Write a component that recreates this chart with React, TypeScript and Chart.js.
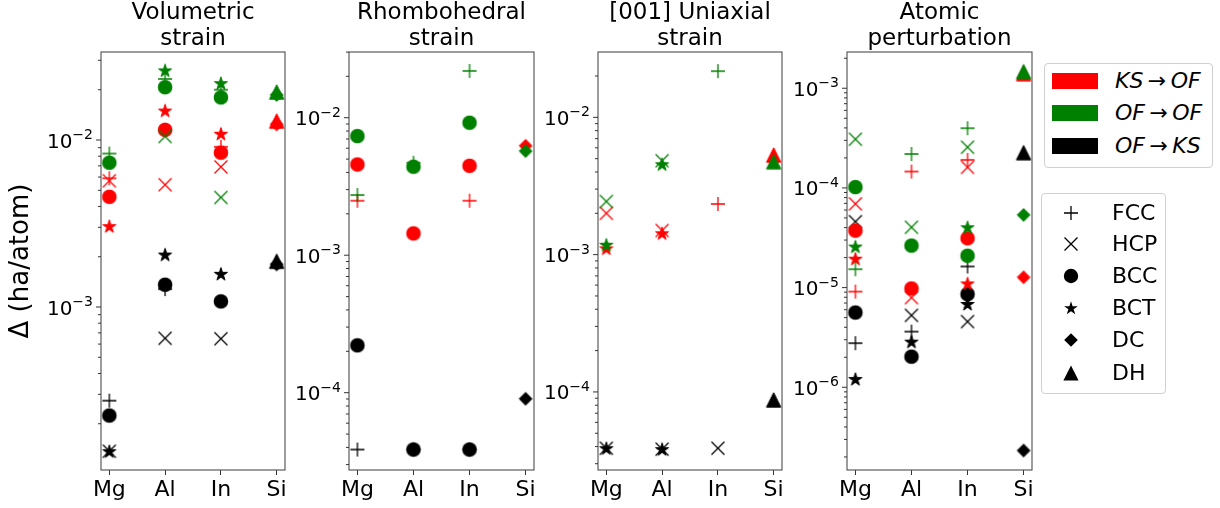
import React, { useEffect, useRef } from 'react';
import { Chart, registerables } from 'chart.js';

Chart.register(...registerables);

// ---------------- data ----------------
const ELEMENTS = ['Mg', 'Al', 'In', 'Si'];
const STRUCTURES = ['FCC', 'HCP', 'BCC', 'BCT', 'DC', 'DH'];
const TRANSFER_COLORS = ['#ff0000', '#008000', '#000000'];
const PANEL_TITLES = [
  ['Volumetric', 'strain'],
  ['Rhombohedral', 'strain'],
  ['[001] Uniaxial', 'strain'],
  ['Atomic', 'perturbation'],
];
const Y_MIN = [1.057e-4, 2.74e-5, 2.7e-5, 1.48e-7];
const Y_MAX = [0.03365, 0.03006, 0.02992, 2.31e-3];

type Rec = { [k: string]: (number | null)[] };
// each array: values for [Mg, Al, In, Si]

// Volumetric strain
const VOL_KS_OF: Rec = {
  FCC: [0.0059, 0.0115, 0.0091, null],
  HCP: [0.0057, 0.0054, 0.0069, null],
  BCC: [0.00457, 0.0115, 0.0084, null],
  BCT: [0.00305, 0.015, 0.0109, null],
  DC: [null, null, null, 0.0124],
  DH: [null, null, null, 0.013],
};
const VOL_OF_OF: Rec = {
  FCC: [0.0083, 0.0232, 0.02, null],
  HCP: [null, 0.0105, 0.00453, null],
  BCC: [0.00731, 0.0207, 0.018, null],
  BCT: [null, 0.0261, 0.0219, null],
  DC: [null, null, null, 0.0186],
  DH: [null, null, null, 0.0194],
};
const VOL_OF_KS: Rec = {
  FCC: [2.75e-4, 1.28e-3, null, null],
  HCP: [1.37e-4, 6.5e-4, 6.46e-4, null],
  BCC: [2.24e-4, 1.36e-3, 1.08e-3, null],
  BCT: [1.37e-4, 2.06e-3, 1.58e-3, null],
  DC: [null, null, null, 1.8e-3],
  DH: [null, null, null, 1.88e-3],
};

// Rhombohedral strain
const RHO_KS_OF: Rec = {
  FCC: [0.00249, null, 0.00249, null],
  BCC: [0.00457, 0.00144, 0.00447, null],
  DC: [null, null, null, 0.00625],
};
const RHO_OF_OF: Rec = {
  FCC: [0.00274, 0.0047, 0.0219, null],
  BCC: [0.00735, 0.0044, 0.0092, null],
  DC: [null, null, null, 0.00572],
};
const RHO_OF_KS: Rec = {
  FCC: [3.86e-5, 3.86e-5, 3.86e-5, null],
  BCC: [2.21e-4, 3.86e-5, 3.86e-5, null],
  DC: [null, null, null, 9.03e-5],
};

// [001] uniaxial strain
const UNI_KS_OF: Rec = {
  FCC: [null, null, 0.00234, null],
  HCP: [0.002, 0.0015, null, null],
  BCT: [0.00111, 0.00143, null, null],
  DH: [null, null, null, 0.00532],
};
const UNI_OF_OF: Rec = {
  FCC: [null, null, 0.0217, null],
  HCP: [0.00244, 0.00483, null, null],
  BCT: [0.00118, 0.00455, null, null],
  DH: [null, null, null, 0.00475],
};
const UNI_OF_KS: Rec = {
  HCP: [3.89e-5, 3.83e-5, 3.89e-5, null],
  BCT: [3.89e-5, 3.83e-5, null, null],
  DH: [null, null, null, 8.75e-5],
};

// Atomic perturbation
const ATOM_KS_OF: Rec = {
  FCC: [9.12e-6, 1.46e-4, 1.91e-4, null],
  HCP: [6.92e-5, 7.94e-6, 1.61e-4, null],
  BCC: [3.73e-5, 9.8e-6, 3.13e-5, null],
  BCT: [1.95e-5, null, 1.1e-5, null],
  DC: [null, null, null, 1.27e-5],
  DH: [null, null, null, 1.4e-3],
};
const ATOM_OF_OF: Rec = {
  FCC: [1.53e-5, 2.19e-4, 3.97e-4, null],
  HCP: [3.08e-4, 4.03e-5, 2.56e-4, null],
  BCC: [1.02e-4, 2.64e-5, 2.09e-5, null],
  BCT: [2.58e-5, null, 4.03e-5, null],
  DC: [null, null, null, 5.36e-5],
  DH: [null, null, null, 1.47e-3],
};
const ATOM_OF_KS: Rec = {
  FCC: [2.77e-6, 3.62e-6, 1.63e-5, null],
  HCP: [4.59e-5, 5.27e-6, 4.56e-6, null],
  BCC: [5.62e-6, 2.03e-6, 8.6e-6, null],
  BCT: [1.21e-6, 2.87e-6, 6.85e-6, null],
  DC: [null, null, null, 2.32e-7],
  DH: [null, null, null, 2.26e-4],
};

const PANEL_SERIES: Rec[][] = [
  [VOL_KS_OF, VOL_OF_OF, VOL_OF_KS],
  [RHO_KS_OF, RHO_OF_OF, RHO_OF_KS],
  [UNI_KS_OF, UNI_OF_OF, UNI_OF_KS],
  [ATOM_KS_OF, ATOM_OF_OF, ATOM_OF_KS],
];

// ---------------- layout ----------------
const FONT = '"DejaVu Sans", "Liberation Sans", sans-serif';
const CANVAS_H = 508;
const PLOT_TOP = 52;
const X_AXIS_H = 38;
const RIGHT_PAD = 10;
// [canvas left, y-axis width, plot width]
const PANEL_BOX = [
  [0, 101, 184],
  [279, 70, 185],
  [528, 70, 184],
  [777, 70, 185],
];

// ---------------- markers ----------------
function makeMarker(shape: string, color: string): HTMLCanvasElement {
  const S = 22;
  const c = document.createElement('canvas');
  c.width = S;
  c.height = S;
  const g = c.getContext('2d')!;
  const m = S / 2;
  g.strokeStyle = color;
  g.fillStyle = color;
  g.lineJoin = 'miter';
  g.beginPath();
  if (shape === 'FCC') {
    g.lineWidth = 1.3;
    g.moveTo(m - 7, m);
    g.lineTo(m + 7, m);
    g.moveTo(m, m - 7);
    g.lineTo(m, m + 7);
    g.stroke();
  } else if (shape === 'HCP') {
    g.lineWidth = 1.3;
    const d = 6.5;
    g.moveTo(m - d, m - d);
    g.lineTo(m + d, m + d);
    g.moveTo(m - d, m + d);
    g.lineTo(m + d, m - d);
    g.stroke();
  } else if (shape === 'BCC') {
    g.lineWidth = 1.2;
    g.arc(m, m, 6.7, 0, Math.PI * 2);
    g.fill();
    g.stroke();
  } else if (shape === 'BCT') {
    g.lineWidth = 1.0;
    const R = 6.9;
    const r = R * 0.381966;
    for (let i = 0; i < 10; i++) {
      const ang = -Math.PI / 2 + (i * Math.PI) / 5;
      const rad = i % 2 === 0 ? R : r;
      const px = m + rad * Math.cos(ang);
      const py = m + 0.6 + rad * Math.sin(ang);
      if (i === 0) g.moveTo(px, py);
      else g.lineTo(px, py);
    }
    g.closePath();
    g.fill();
    g.stroke();
  } else if (shape === 'DC') {
    g.lineWidth = 1.0;
    const h = 6.4;
    g.moveTo(m, m - h);
    g.lineTo(m + h, m);
    g.lineTo(m, m + h);
    g.lineTo(m - h, m);
    g.closePath();
    g.fill();
    g.stroke();
  } else if (shape === 'DH') {
    g.lineWidth = 1.0;
    const h = 7.2;
    g.moveTo(m, m - h);
    g.lineTo(m + h, m + h);
    g.lineTo(m - h, m + h);
    g.closePath();
    g.fill();
    g.stroke();
  }
  return c;
}

function logTicks(min: number, max: number) {
  const out: { v: number; major: boolean; e: number }[] = [];
  const e0 = Math.floor(Math.log10(min));
  const e1 = Math.ceil(Math.log10(max));
  for (let e = e0; e <= e1; e++) {
    for (let k = 1; k <= 9; k++) {
      const v = k * Math.pow(10, e);
      if (v >= min * 0.9999 && v <= max * 1.0001) out.push({ v, major: k === 1, e });
    }
  }
  return out;
}

function decorPlugin(title: string[], yMin: number, yMax: number) {
  return {
    id: 'decor',
    afterDatasetsDraw(chart: any) {
      const { ctx, chartArea: a } = chart;
      ctx.save();
      ctx.strokeStyle = '#4d4d4d';
      ctx.lineWidth = 1.1;
      ctx.strokeRect(a.left, a.top, a.right - a.left, a.bottom - a.top);
      ctx.restore();
    },
    afterDraw(chart: any) {
      const { ctx, chartArea: a } = chart;
      const ys = chart.scales.y;
      ctx.save();
      ctx.fillStyle = '#000';
      ctx.font = `23px ${FONT}`;
      ctx.textAlign = 'center';
      ctx.textBaseline = 'alphabetic';
      const cx = (a.left + a.right) / 2;
      ctx.fillText(title[0], cx, 19);
      ctx.fillText(title[1], cx, 45);

      ctx.strokeStyle = '#333';
      ctx.lineWidth = 1;
      for (const t of logTicks(yMin, yMax)) {
        const py = ys.getPixelForValue(t.v);
        ctx.beginPath();
        ctx.moveTo(a.left, py);
        ctx.lineTo(a.left - (t.major ? 5 : 3), py);
        ctx.stroke();
        if (t.major) {
          const right = a.left - 8;
          const exp = '\u2212' + Math.abs(t.e);
          ctx.font = `14px ${FONT}`;
          const wE = ctx.measureText(exp).width;
          ctx.font = `20px ${FONT}`;
          const wM = ctx.measureText('10').width;
          const x0 = right - wE - wM;
          ctx.textAlign = 'left';
          ctx.fillText('10', x0, py + 7.5);
          ctx.font = `14px ${FONT}`;
          ctx.fillText(exp, x0 + wM, py - 1);
        }
      }
      ctx.restore();
    },
  };
}

function buildDatasets(series: Rec[], markers: HTMLCanvasElement[][]) {
  const order = [2, 0, 1]; // black bottom, then red, green on top
  const sets: any[] = [];
  for (const ci of order) {
    const rec = series[ci];
    STRUCTURES.forEach((s, si) => {
      const vals = rec[s];
      if (!vals) return;
      const data = vals
        .map((v, i) => (v == null ? null : { x: i, y: v }))
        .filter((p) => p !== null);
      if (!data.length) return;
      sets.push({
        label: `${ci}-${s}`,
        data,
        pointStyle: markers[ci][si],
        pointRadius: 8,
        pointHoverRadius: 8,
        showLine: false,
        clip: 0,
      });
    });
  }
  return sets.reverse(); // Chart.js draws dataset 0 last
}

function Panel({ idx }: { idx: number }) {
  const ref = useRef<HTMLCanvasElement>(null);
  const [left, yw, pw] = PANEL_BOX[idx];
  const width = yw + pw + RIGHT_PAD;
  useEffect(() => {
    const markers = TRANSFER_COLORS.map((c) => STRUCTURES.map((s) => makeMarker(s, c)));
    const chart = new Chart(ref.current!, {
      type: 'scatter',
      data: { datasets: buildDatasets(PANEL_SERIES[idx], markers) },
      options: {
        animation: false,
        responsive: false,
        events: [],
        devicePixelRatio: 1,
        layout: { padding: { top: PLOT_TOP, right: RIGHT_PAD, left: 0, bottom: 0 } },
        plugins: { legend: { display: false }, tooltip: { enabled: false }, title: { display: false } },
        scales: {
          x: {
            type: 'linear',
            min: -0.15,
            max: 3.15,
            afterBuildTicks: (scale: any) => {
              scale.ticks = ELEMENTS.map((_, i) => ({ value: i }));
            },
            afterFit: (scale: any) => {
              scale.height = X_AXIS_H;
            },
            ticks: {
              autoSkip: false,
              maxRotation: 0,
              padding: 2,
              color: '#000',
              font: { family: FONT, size: 22 },
              callback: (v: any) => ELEMENTS[Math.round(Number(v))] ?? '',
            },
            grid: { display: true, drawOnChartArea: false, drawTicks: true, tickLength: 5, tickColor: '#333' },
            border: { display: false },
          },
          y: {
            type: 'logarithmic',
            min: Y_MIN[idx],
            max: Y_MAX[idx],
            afterFit: (scale: any) => {
              scale.width = yw;
            },
            ticks: { display: false },
            grid: { display: false },
            border: { display: false },
            title: {
              display: idx === 0,
              text: 'Δ (ha/atom)',
              color: '#000',
              font: { family: FONT, size: 26 },
              padding: { top: 6, bottom: 0 },
            },
          },
        },
      },
      plugins: [decorPlugin(PANEL_TITLES[idx], Y_MIN[idx], Y_MAX[idx])],
    } as any);
    return () => chart.destroy();
  }, [idx]);
  return (
    <canvas
      ref={ref}
      width={width}
      height={CANVAS_H}
      style={{ position: 'absolute', left, top: 0, width, height: CANVAS_H }}
    />
  );
}

function MarkerIcon({ shape }: { shape: string }) {
  const m = 10;
  let el: any = null;
  if (shape === 'FCC')
    el = <path d={`M${m - 7} ${m}H${m + 7}M${m} ${m - 7}V${m + 7}`} stroke="#000" strokeWidth={1.3} fill="none" />;
  else if (shape === 'HCP')
    el = (
      <path
        d={`M${m - 6.5} ${m - 6.5}L${m + 6.5} ${m + 6.5}M${m - 6.5} ${m + 6.5}L${m + 6.5} ${m - 6.5}`}
        stroke="#000"
        strokeWidth={1.3}
        fill="none"
      />
    );
  else if (shape === 'BCC') el = <circle cx={m} cy={m} r={7.2} fill="#000" />;
  else if (shape === 'BCT') {
    const R = 7.2;
    const r = R * 0.381966;
    const pts: string[] = [];
    for (let i = 0; i < 10; i++) {
      const ang = -Math.PI / 2 + (i * Math.PI) / 5;
      const rad = i % 2 === 0 ? R : r;
      pts.push(`${(m + rad * Math.cos(ang)).toFixed(2)},${(m + 0.5 + rad * Math.sin(ang)).toFixed(2)}`);
    }
    el = <polygon points={pts.join(' ')} fill="#000" />;
  } else if (shape === 'DC')
    el = <polygon points={`${m},${m - 6.8} ${m + 6.8},${m} ${m},${m + 6.8} ${m - 6.8},${m}`} fill="#000" />;
  else if (shape === 'DH')
    el = <polygon points={`${m},${m - 7.6} ${m + 7.6},${m + 7.6} ${m - 7.6},${m + 7.6}`} fill="#000" />;
  return (
    <svg width={20} height={20} style={{ position: 'absolute', left: -10, top: -10 }}>
      {el}
    </svg>
  );
}

const COLOR_LEGEND_ROWS = [81, 113, 146];
const MARKER_LEGEND_ROWS = [213, 244, 276, 308, 340, 373];

function Legends() {
  const textStyle: any = {
    position: 'absolute',
    height: 26,
    lineHeight: '26px',
    fontFamily: FONT,
    fontSize: 22,
    color: '#000',
    whiteSpace: 'nowrap',
  };
  const transferText = [
    ['KS', 'OF'],
    ['OF', 'OF'],
    ['OF', 'KS'],
  ];
  return (
    <>
      <div
        style={{
          position: 'absolute',
          left: 1044,
          top: 63,
          width: 167,
          height: 103,
          border: '1px solid #d0d0d0',
          borderRadius: 4,
          background: 'rgba(255,255,255,0.8)',
        }}
      />
      {COLOR_LEGEND_ROWS.map((cy, i) => (
        <React.Fragment key={'c' + i}>
          <div
            style={{ position: 'absolute', left: 1052, top: cy - 8, width: 46, height: 16, background: TRANSFER_COLORS[i] }}
          />
          <div style={{ ...textStyle, left: 1115, top: cy - 13 }}>
            <i>{transferText[i][0]}</i>
            {'\u2009→\u2009'}
            <i>{transferText[i][1]}</i>
          </div>
        </React.Fragment>
      ))}
      <div
        style={{
          position: 'absolute',
          left: 1041,
          top: 193,
          width: 123,
          height: 199,
          border: '1px solid #d0d0d0',
          borderRadius: 4,
          background: 'rgba(255,255,255,0.8)',
        }}
      />
      {MARKER_LEGEND_ROWS.map((cy, i) => (
        <React.Fragment key={'m' + i}>
          <div style={{ position: 'absolute', left: 1071, top: cy, width: 0, height: 0 }}>
            <MarkerIcon shape={STRUCTURES[i]} />
          </div>
          <div style={{ ...textStyle, left: 1112, top: cy - 13 }}>{STRUCTURES[i]}</div>
        </React.Fragment>
      ))}
    </>
  );
}

export default function App() {
  return (
    <div style={{ position: 'fixed', left: 0, top: 0, width: 1220, height: 508, background: '#fff', overflow: 'hidden' }}>
      {[0, 1, 2, 3].map((i) => (
        <Panel key={i} idx={i} />
      ))}
      <Legends />
    </div>
  );
}
